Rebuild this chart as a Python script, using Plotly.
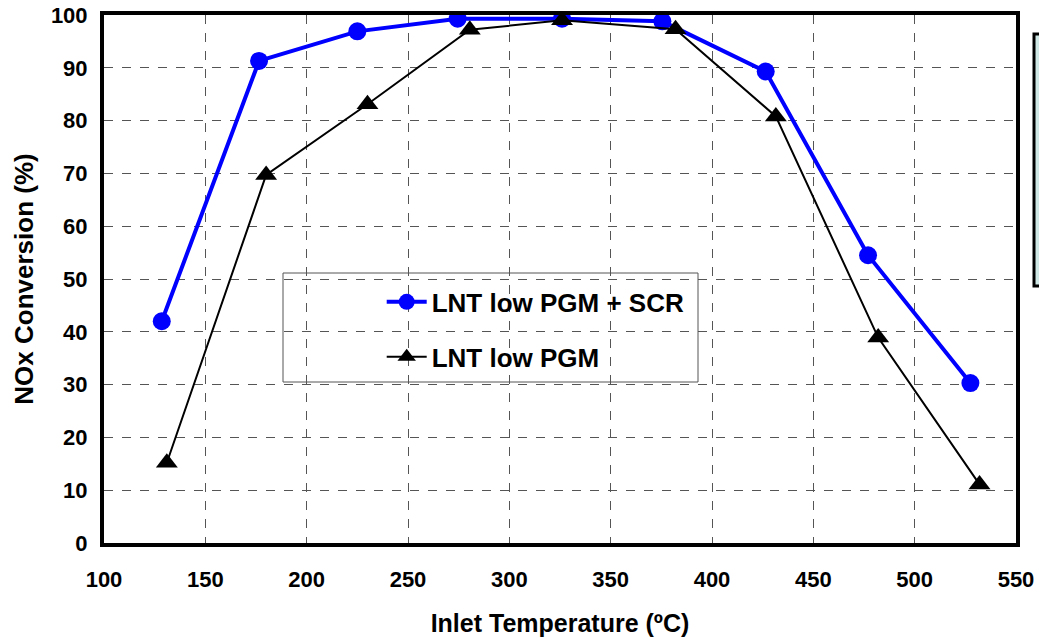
import plotly.graph_objects as go

temp_scr = [128.5, 176.5, 225, 274.5, 326, 375.5, 426.5, 477, 527.5]
nox_scr = [42.0, 91.3, 96.9, 99.3, 99.3, 98.8, 89.3, 54.5, 30.3]

temp_lnt = [131, 180, 230, 280.5, 326, 382, 431.5, 482, 532]
nox_lnt = [15.2, 69.7, 83.1, 97.2, 99.0, 97.3, 80.8, 38.9, 11.1]

x_ticks = [100, 150, 200, 250, 300, 350, 400, 450, 500, 550]
y_ticks = [0, 10, 20, 30, 40, 50, 60, 70, 80, 90, 100]

FONT = "Liberation Sans, Arial, sans-serif"

fig = go.Figure()
fig.add_trace(go.Scatter(
    x=temp_scr, y=nox_scr, mode="lines+markers", name="<b>LNT low PGM + SCR</b>",
    line=dict(color="#0000ff", width=4),
    marker=dict(symbol="circle", size=18, color="#0000ff"),
    legendgroup="a",
))
fig.add_trace(go.Scatter(
    x=temp_lnt, y=nox_lnt, mode="lines+markers", name="<b>LNT low PGM</b>",
    line=dict(color="#000000", width=2),
    marker=dict(symbol="triangle-up", size=19, color="#000000"),
    legendgroup="b",
))

axis_common = dict(
    showline=True, linewidth=4, linecolor="#000000", mirror=True,
    showgrid=True, gridcolor="#555555", gridwidth=1, griddash="dash",
    zeroline=False, ticks="", automargin=False,
    tickfont=dict(family=FONT, size=22, color="#000000", weight="bold"),
)

fig.update_layout(
    width=1039, height=639,
    margin=dict(l=104, r=23, t=15, b=96),
    paper_bgcolor="#ffffff", plot_bgcolor="#ffffff",
    font=dict(family=FONT, color="#000000"),
    xaxis=dict(range=[100, 550], tickvals=x_ticks, ticktext=[str(v) for v in x_ticks],
               ticklabelstandoff=14,
               title=dict(text="<b>Inlet Temperature (ºC)</b>", font=dict(family=FONT, size=25), standoff=24),
               **axis_common),
    yaxis=dict(range=[0, 100], tickvals=y_ticks, ticktext=[str(v) for v in y_ticks],
               ticklabelstandoff=8,
               title=dict(text="<b>NOx Conversion (%)</b>", font=dict(family=FONT, size=26), standoff=11),
               **axis_common),
    showlegend=True,
    legend=dict(
        x=0.3045, y=0.501, xanchor="left", yanchor="top",
        bgcolor="rgba(0,0,0,0)", borderwidth=0,
        font=dict(family=FONT, size=26, color="#000000"),
        tracegroupgap=18, traceorder="grouped",
        itemwidth=40,
    ),
    shapes=[
        dict(type="rect", xref="paper", yref="paper", layer="below",
             x0=(283 - 104) / 912, x1=(698 - 104) / 912,
             y0=(543 - 382) / 528, y1=(543 - 273) / 528,
             line=dict(color="#555555", width=1), fillcolor="#ffffff"),
        dict(type="rect", xref="paper", yref="paper",
             x0=(1034 - 104) / 912, x1=(1060 - 104) / 912,
             y0=(543 - 286) / 528, y1=(543 - 34) / 528,
             line=dict(color="#000000", width=3), fillcolor="#cfe8e6"),
    ],
)

fig.write_html("out.html", config={"displayModeBar": False},
               post_script="document.body.style.margin='0';")
